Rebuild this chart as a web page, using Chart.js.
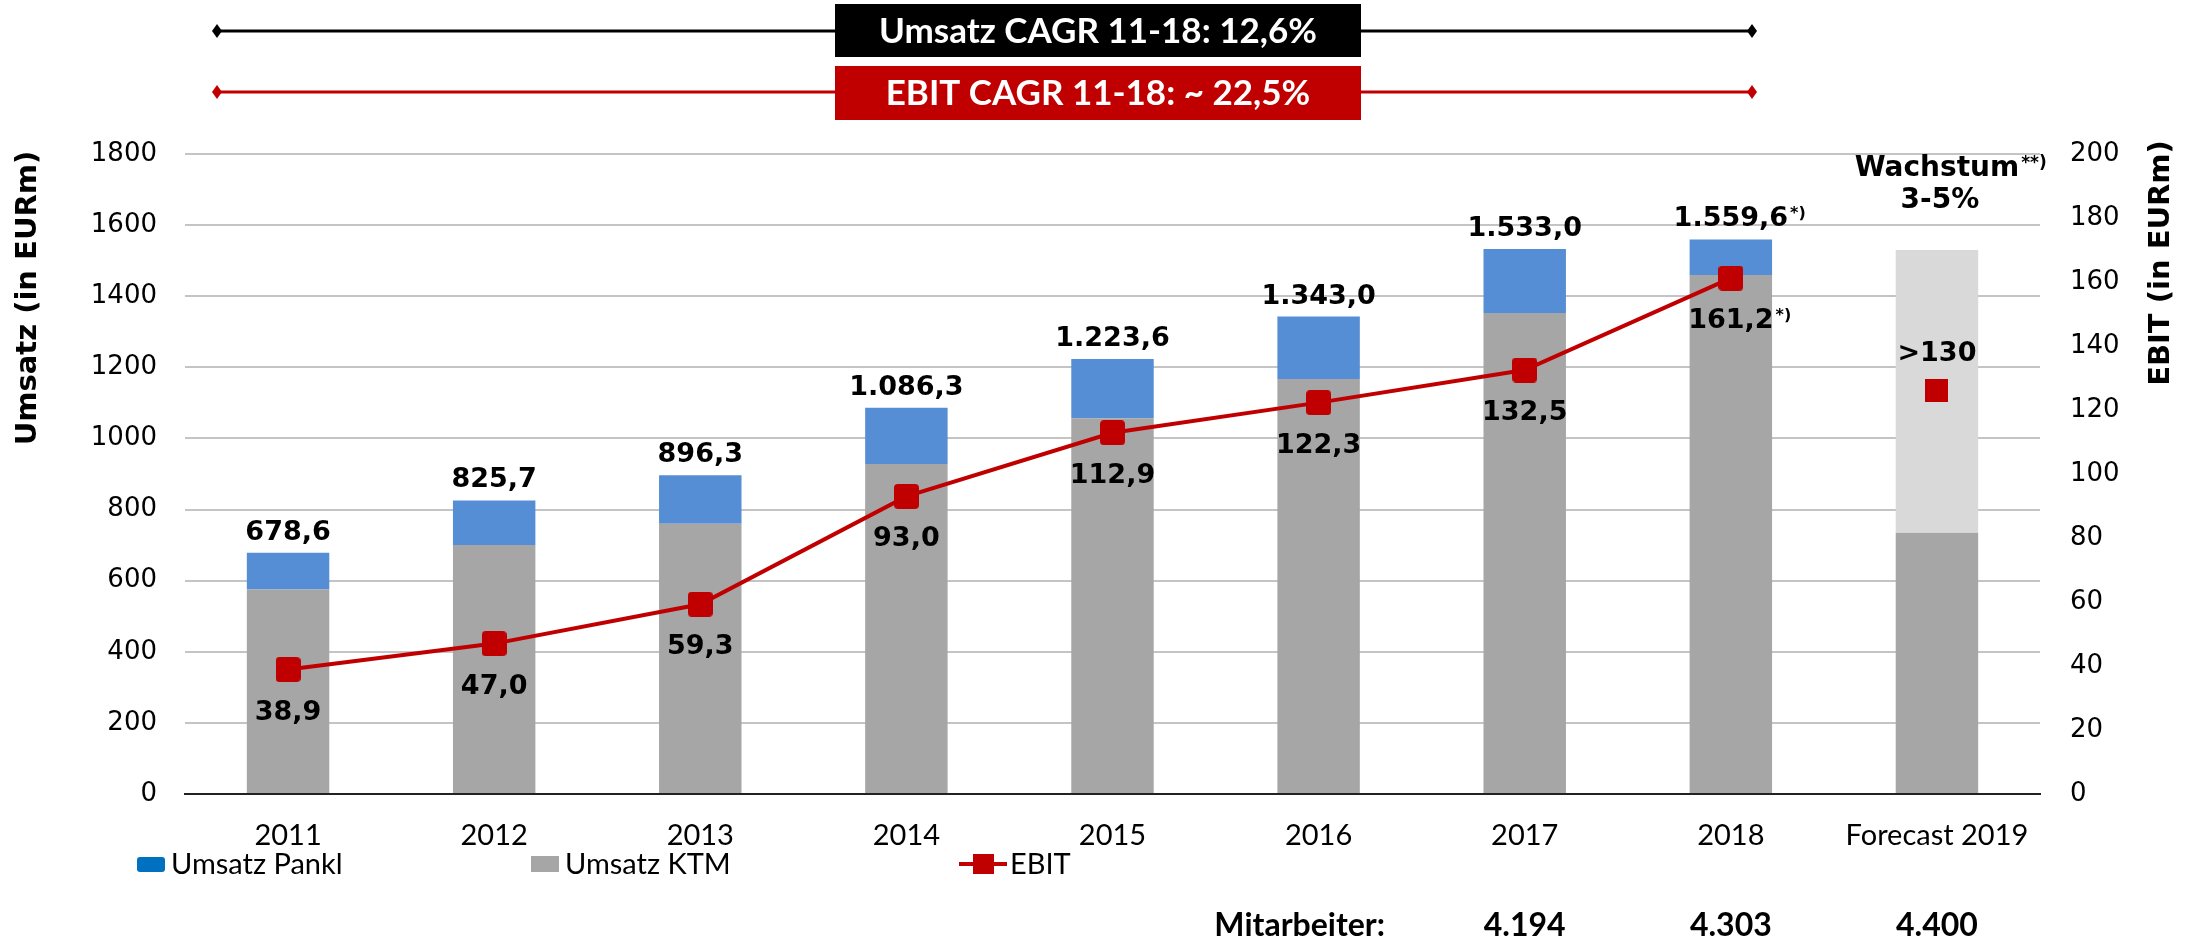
<!DOCTYPE html>
<html>
<head>
<meta charset="utf-8">
<script src="https://cdn.jsdelivr.net/npm/chart.js@4.4.1/dist/chart.umd.min.js"></script>
<style>
  html, body { margin: 0; padding: 0; background: #fff; }
  #wrap { width: 2193px; height: 941px; position: relative; }
</style>
</head>
<body>
<div id="wrap"><canvas id="chart"></canvas></div>
<script>
// Kategorien und Werte
const years = ['2011', '2012', '2013', '2014', '2015', '2016', '2017', '2018', 'Forecast 2019'];
const umsatzKTM = [575, 700, 760, 928, 1057, 1167, 1353, 1460, 735];
const umsatzPankl = [103.6, 125.7, 136.3, 158.3, 166.6, 176.0, 180.0, 99.6, null];
const forecastGrowth = [null, null, null, null, null, null, null, null, 795];
const umsatzTotal = [678.6, 825.7, 896.3, 1086.3, 1223.6, 1343.0, 1533.0, 1559.6, null];
const ebit = [38.9, 47.0, 59.3, 93.0, 112.9, 122.3, 132.5, 161.2, null];
const ebitForecast = [null, null, null, null, null, null, null, null, 126];
const ebitForecastLabel = '>130';
const footnoteIdx = 7; // 2018 mit *)
const mitarbeiterYears = ['2017', '2018', 'Forecast 2019'];
const mitarbeiter = ['4.194', '4.303', '4.400'];
const leftTicks = { min: 0, max: 1800, step: 200 };
const rightTicks = { min: 0, max: 200, step: 20 };

const F = '"DejaVu Sans", Verdana, sans-serif';
const FL = 'Lato, "Open Sans", sans-serif';
const RED = '#c00000';

function fmtDE(v) {
    const parts = v.toFixed(1).split('.');
    const int = parts[0].replace(/\B(?=(\d{3})+(?!\d))/g, '.');
    return int + ',' + parts[1];
}

// Marker: Quadrat mit leicht gerundeten Ecken
function makeMarker(size, r) {
    const c = document.createElement('canvas');
    c.width = size; c.height = size;
    const g = c.getContext('2d');
    g.fillStyle = RED;
    g.beginPath(); g.roundRect(0, 0, size, size, r); g.fill();
    return c;
}
const ebitMarker = makeMarker(25, 4);
const fcMarker = makeMarker(23, 0);

// Text mit hochgestelltem Zusatz, Haupttext zentriert auf cx
function drawSup(ctx, main, sup, cx, cy, size) {
    ctx.textBaseline = 'middle';
    ctx.font = 'bold ' + size + 'px ' + F;
    const w1 = ctx.measureText(main).width;
    ctx.textAlign = 'left';
    ctx.fillText(main, cx - w1 / 2, cy);
    if (sup) {
        ctx.font = 'bold ' + Math.round(size * 0.6) + 'px ' + F;
        ctx.fillText(sup, cx + w1 / 2 + 2, cy - size * 0.2);
    }
}

function diamond(ctx, x, y, color) {
    ctx.fillStyle = color;
    ctx.beginPath();
    ctx.moveTo(x, y - 7); ctx.lineTo(x + 5, y); ctx.lineTo(x, y + 7); ctx.lineTo(x - 5, y);
    ctx.closePath(); ctx.fill();
}

function banner(ctx, y, rectTop, rectH, color, text) {
    ctx.strokeStyle = color;
    ctx.lineWidth = 3;
    ctx.beginPath(); ctx.moveTo(217, y); ctx.lineTo(1752, y); ctx.stroke();
    diamond(ctx, 217, y, color);
    diamond(ctx, 1752, y, color);
    ctx.fillStyle = color;
    ctx.fillRect(835, rectTop, 526, rectH);
    ctx.fillStyle = '#fff';
    ctx.font = 'bold 35px ' + FL;
    ctx.textAlign = 'center';
    ctx.textBaseline = 'middle';
    ctx.fillText(text, 1098, rectTop + rectH / 2 + 1);
}

const extras = {
    id: 'extras',
    afterDatasetsDraw(chart) {
        const ctx = chart.ctx;
        ctx.save();
        ctx.fillStyle = '#000';
        // Umsatz-Summen über den Balken
        const topMeta = chart.getDatasetMeta(1);
        topMeta.data.forEach((el, i) => {
            if (umsatzTotal[i] == null) return;
            drawSup(ctx, fmtDE(umsatzTotal[i]), i === footnoteIdx ? '*)' : '', el.x, el.y - 20, 27);
        });
        // EBIT-Werte unter den Punkten
        const lineMeta = chart.getDatasetMeta(3);
        lineMeta.data.forEach((el, i) => {
            if (ebit[i] == null) return;
            drawSup(ctx, fmtDE(ebit[i]), i === footnoteIdx ? '*)' : '', el.x, el.y + 43, 27);
        });
        const fcMeta = chart.getDatasetMeta(4);
        fcMeta.data.forEach((el, i) => {
            if (ebitForecast[i] == null) return;
            drawSup(ctx, ebitForecastLabel, '', el.x, el.y - 37, 27);
            // Wachstum über dem Forecast-Balken
            drawSup(ctx, 'Wachstum', '**)', el.x, 169, 28);
            drawSup(ctx, '3-5%', '', el.x + 3, 201, 28);
        });
        ctx.restore();
    },
    afterDraw(chart) {
        const ctx = chart.ctx;
        ctx.save();
        // CAGR-Banner
        banner(ctx, 31, 4, 53, '#000', 'Umsatz CAGR 11-18: 12,6%');
        banner(ctx, 92, 66, 54, RED, 'EBIT CAGR 11-18: ~ 22,5%');

        // Achsentitel
        ctx.fillStyle = '#000';
        ctx.font = 'bold 29px ' + F;
        ctx.textAlign = 'center';
        ctx.textBaseline = 'middle';
        ctx.save();
        ctx.translate(28, 298); ctx.rotate(-Math.PI / 2);
        ctx.fillText('Umsatz (in EURm)', 0, 0);
        ctx.restore();
        ctx.save();
        ctx.translate(2161, 263); ctx.rotate(-Math.PI / 2);
        ctx.fillText('EBIT (in EURm)', 0, 0);
        ctx.restore();

        // Legende
        const ly = 864;
        ctx.font = '29px ' + FL;
        ctx.textAlign = 'left';
        ctx.fillStyle = '#0070c0';
        ctx.beginPath(); ctx.roundRect(137, ly - 7, 28, 15, 3); ctx.fill();
        ctx.fillStyle = '#000';
        ctx.fillText('Umsatz Pankl', 171, ly + 1);
        ctx.fillStyle = '#a6a6a6';
        ctx.fillRect(531, ly - 8, 28, 16);
        ctx.fillStyle = '#000';
        ctx.fillText('Umsatz KTM', 565, ly + 1);
        ctx.strokeStyle = RED; ctx.lineWidth = 4;
        ctx.beginPath(); ctx.moveTo(959, ly); ctx.lineTo(1007, ly); ctx.stroke();
        ctx.fillStyle = RED;
        ctx.fillRect(973, ly - 10, 21, 20);
        ctx.fillStyle = '#000';
        ctx.fillText('EBIT', 1010, ly + 1);

        // Mitarbeiter
        const xs = chart.scales.x;
        ctx.font = 'bold 32px ' + FL;
        ctx.textAlign = 'right';
        ctx.fillText('Mitarbeiter:', 1385, 926);
        ctx.textAlign = 'center';
        mitarbeiterYears.forEach((y, i) => {
            ctx.fillText(mitarbeiter[i], xs.getPixelForValue(years.indexOf(y)), 926);
        });
        ctx.restore();
    }
};

new Chart(document.getElementById('chart'), {
    data: {
        labels: years,
        datasets: [
            { type: 'bar', label: 'Umsatz KTM', data: umsatzKTM, backgroundColor: '#a6a6a6', stack: 'u', yAxisID: 'y', order: 2 },
            { type: 'bar', label: 'Umsatz Pankl', data: umsatzPankl, backgroundColor: '#558ed5', stack: 'u', yAxisID: 'y', order: 2 },
            { type: 'bar', label: 'Wachstum', data: forecastGrowth, backgroundColor: '#d9d9d9', stack: 'u', yAxisID: 'y', order: 2 },
            { type: 'line', label: 'EBIT', data: ebit, borderColor: RED, borderWidth: 4, backgroundColor: RED,
              pointStyle: ebitMarker, yAxisID: 'y1', order: 0, tension: 0 },
            { type: 'line', label: 'EBIT Forecast', data: ebitForecast, showLine: false, backgroundColor: RED, borderColor: RED,
              pointStyle: fcMarker, yAxisID: 'y1', order: 0 }
        ]
    },
    options: {
        responsive: true,
        maintainAspectRatio: false,
        animation: false,
        layout: { padding: { top: 154, left: 0, right: 0, bottom: 0 } },
        plugins: { legend: { display: false }, tooltip: { enabled: false } },
        datasets: { bar: { categoryPercentage: 1, barPercentage: 0.4 } },
        scales: {
            x: {
                stacked: true,
                grid: { display: false, drawTicks: false },
                border: { display: true, color: '#222', width: 2 },
                ticks: { color: '#000', font: { family: FL, size: 29 }, padding: 24, maxRotation: 0, autoSkip: false },
                afterFit(s) { s.height = 147; }
            },
            y: {
                stacked: true,
                position: 'left',
                min: leftTicks.min, max: leftTicks.max,
                grid: { color: '#c4c4c4', lineWidth: 2, drawTicks: false },
                border: { display: false },
                ticks: { stepSize: leftTicks.step, color: '#000', font: { family: F, size: 26 }, padding: 28,
                         callback: v => String(v) },
                afterFit(s) { s.width = 185; }
            },
            y1: {
                position: 'right',
                min: rightTicks.min, max: rightTicks.max,
                grid: { display: false, drawTicks: false },
                border: { display: false },
                ticks: { stepSize: rightTicks.step, color: '#000', font: { family: F, size: 26 }, padding: 30,
                         callback: v => String(v) },
                afterFit(s) { s.width = 153; }
            }
        }
    },
    plugins: [extras]
});
</script>
</body>
</html>
